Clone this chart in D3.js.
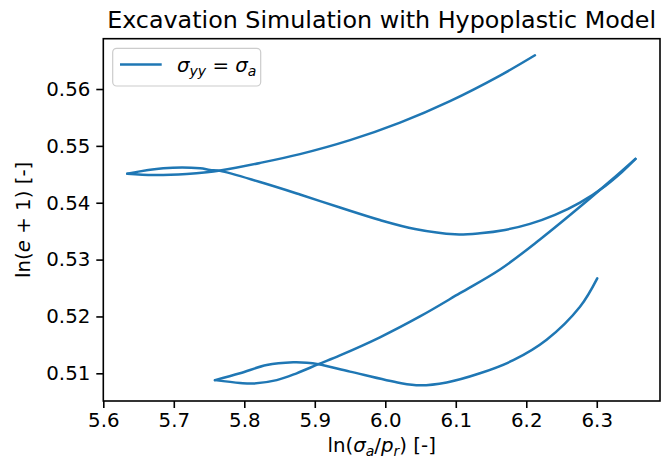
<!DOCTYPE html>
<html>
<head>
<meta charset="utf-8">
<script src="https://cdn.jsdelivr.net/npm/d3@7"></script>
<style>
  body { margin: 0; background: #fff; }
  svg { display: block; font-family: "DejaVu Sans", sans-serif; }
</style>
</head>
<body>
<svg id="chart"></svg>
<script>
// Stress path (ln(sigma_a/p_r), ln(e+1))
const lnStress = [
  6.2123, 6.1627, 6.0918, 6.0209, 5.9500, 5.8790, 5.8223, 5.7656, 5.7467, 5.7183,
  5.6709, 5.6340, 5.6851, 5.7372, 5.7513, 5.7656, 5.8223, 5.8790, 5.9357, 5.9924,
  6.0421, 6.0988, 6.1343, 6.1698, 6.2052, 6.2407, 6.2762, 6.3116, 6.3357, 6.3549,
  6.3187, 6.2762, 6.2194, 6.1627, 6.1059, 6.0492, 5.9924, 5.9357, 5.9050, 5.8743,
  5.8460, 5.8128, 5.7939, 5.7584, 5.7939, 5.8318, 5.8695, 5.8885, 5.9050, 5.9499,
  6.0209, 6.0492, 6.0871, 6.1343, 6.1816, 6.2289, 6.2762, 6.3007
];
const lnVoid = [
  0.56593, 0.56236, 0.55787, 0.55409, 0.55101, 0.54855, 0.54700, 0.54567, 0.54535, 0.54505,
  0.54488, 0.54510, 0.54605, 0.54605, 0.54576, 0.54560, 0.54364, 0.54145, 0.53916, 0.53696,
  0.53538, 0.53445, 0.53464, 0.53522, 0.53628, 0.53786, 0.54002, 0.54292, 0.54540, 0.54771,
  0.54377, 0.53928, 0.53353, 0.52826, 0.52409, 0.52000, 0.51633, 0.51315, 0.51160, 0.51000,
  0.50880, 0.50820, 0.50830, 0.50880, 0.51000, 0.51146, 0.51193, 0.51186, 0.51160, 0.51030,
  0.50830, 0.50790, 0.50840, 0.51000, 0.51230, 0.51590, 0.52170, 0.52670
];
const xTicks = [5.6, 5.7, 5.8, 5.9, 6.0, 6.1, 6.2, 6.3];
const yTicks = [0.51, 0.52, 0.53, 0.54, 0.55, 0.56];

const W = 661, H = 462;
const margin = {top: 38.7, right: 1, bottom: 61, left: 103.3};
const width = W - margin.left - margin.right;
const height = H - margin.top - margin.bottom;
const blue = "#1f77b4";

const svg = d3.select("#chart").attr("width", W).attr("height", H);
const g = svg.append("g").attr("transform", `translate(${margin.left},${margin.top})`);

const x = d3.scaleLinear().domain([5.6, 6.3897]).range([0, width]);
const y = d3.scaleLinear().domain([0.50513, 0.56885]).range([height, 0]);

const points = lnStress.map((v, i) => [v, lnVoid[i]]);

// Split the path where it turns back in x, so the cusps stay sharp
const segments = [];
let current = [points[0]];
for (let i = 1; i < points.length; i++) {
    current.push(points[i]);
    if (i < points.length - 1) {
        const d1 = points[i][0] - points[i - 1][0];
        const d2 = points[i + 1][0] - points[i][0];
        if (d1 * d2 < 0) {
            segments.push(current);
            current = [points[i]];
        }
    }
}
segments.push(current);

const line = d3.line()
    .x(d => x(d[0]))
    .y(d => y(d[1]))
    .curve(d3.curveCatmullRom.alpha(0.5));

g.selectAll("path.curve")
    .data(segments)
    .join("path")
    .attr("class", "curve")
    .attr("fill", "none")
    .attr("stroke", blue)
    .attr("stroke-width", 2.5)
    .attr("stroke-linejoin", "round")
    .attr("stroke-linecap", "round")
    .attr("d", line);

// Axes
const xAxis = g.append("g")
    .attr("transform", `translate(0,${height})`)
    .call(d3.axisBottom(x).tickValues(xTicks).tickFormat(d3.format(".1f")).tickSizeInner(7).tickSizeOuter(0).tickPadding(5));
const yAxis = g.append("g")
    .call(d3.axisLeft(y).tickValues(yTicks).tickFormat(d3.format(".2f")).tickSizeInner(7).tickSizeOuter(0).tickPadding(6));

[xAxis, yAxis].forEach(a => {
    a.select(".domain").remove();
    a.selectAll("line").attr("stroke", "#000").attr("stroke-width", 1.6);
    a.selectAll("text").attr("fill", "#000").style("font-size", "19.8px").style("font-family", "DejaVu Sans");
});

// Frame
g.append("rect")
    .attr("width", width).attr("height", height)
    .attr("fill", "none").attr("stroke", "#000").attr("stroke-width", 1.6);

// Title
svg.append("text")
    .attr("x", margin.left + width / 2).attr("y", 28)
    .attr("text-anchor", "middle")
    .style("font-size", "23.8px")
    .text("Excavation Simulation with Hypoplastic Model");

// X label: ln(σa/pr) [-]
const xl = svg.append("text")
    .attr("x", margin.left + width / 2).attr("y", 452)
    .attr("text-anchor", "middle")
    .style("font-size", "19.8px");
xl.append("tspan").text("ln(");
xl.append("tspan").attr("font-style", "italic").text("σ");
xl.append("tspan").attr("font-style", "italic").attr("font-size", "14px").attr("dy", 4).text("a");
xl.append("tspan").attr("dy", -4).text("/");
xl.append("tspan").attr("font-style", "italic").text("p");
xl.append("tspan").attr("font-style", "italic").attr("font-size", "14px").attr("dy", 4).text("r");
xl.append("tspan").attr("dy", -4).text(") [-]");

// Y label: ln(e + 1) [-]
const yl = svg.append("text")
    .attr("transform", `translate(30,${margin.top + height / 2}) rotate(-90)`)
    .attr("text-anchor", "middle")
    .style("font-size", "19.8px");
yl.append("tspan").text("ln(");
yl.append("tspan").attr("font-style", "italic").text("e");
yl.append("tspan").text(" + 1) [-]");

// Legend
const lg = svg.append("g");
lg.append("rect")
    .attr("x", 112.7).attr("y", 48.3).attr("width", 148).attr("height", 37.7)
    .attr("rx", 4)
    .attr("fill", "#fff").attr("fill-opacity", 0.8)
    .attr("stroke", "#ccc").attr("stroke-width", 1.2);
lg.append("line")
    .attr("x1", 120).attr("x2", 161.7).attr("y1", 64.5).attr("y2", 64.5)
    .attr("stroke", blue).attr("stroke-width", 2.5);
const lt = lg.append("text")
    .attr("x", 177).attr("y", 72)
    .style("font-size", "19.8px");
lt.append("tspan").attr("font-style", "italic").text("σ");
lt.append("tspan").attr("font-style", "italic").attr("font-size", "14px").attr("dy", 4).text("yy");
lt.append("tspan").attr("dy", -4).text(" = ");
lt.append("tspan").attr("font-style", "italic").text("σ");
lt.append("tspan").attr("font-style", "italic").attr("font-size", "14px").attr("dy", 4).text("a");
</script>
</body>
</html>
